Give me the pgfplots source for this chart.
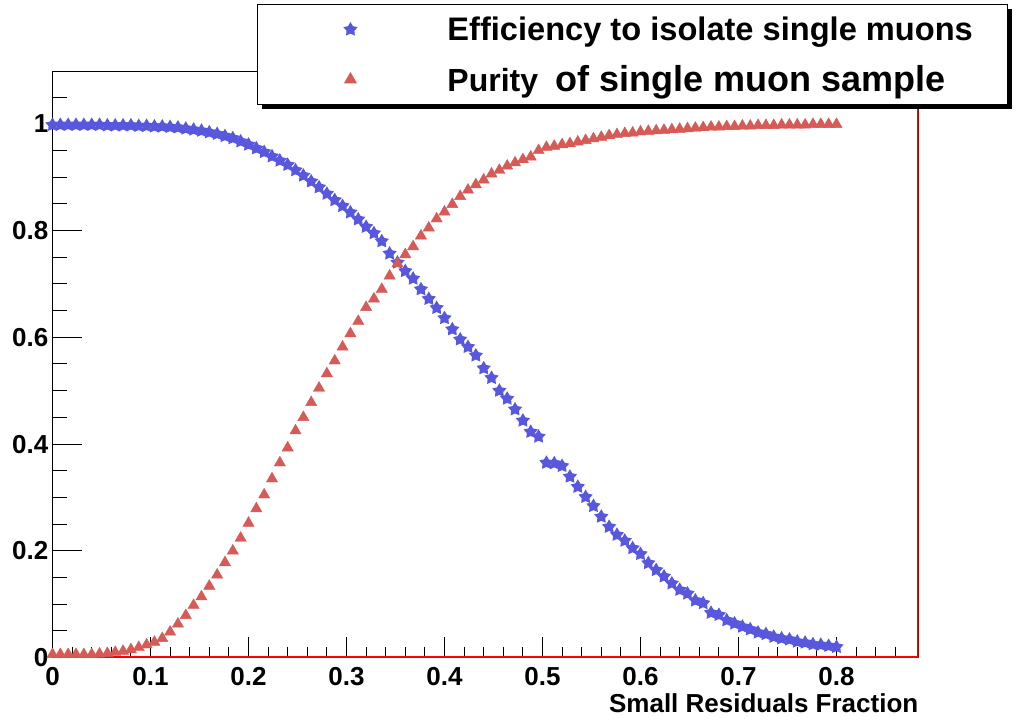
\documentclass[border=0pt]{standalone}
\usepackage{fontspec}
\setmainfont{Liberation Sans}
\usepackage{pgfplots}
\usepackage{pgfplotstable}
\pgfplotsset{compat=1.18}
\usetikzlibrary{shadows}
\definecolor{effblue}{RGB}{88,88,222}
\definecolor{purred}{RGB}{214,90,85}
\pgfdeclareplotmark{fstar}{%
 \pgfpathmoveto{\pgfpointpolar{90}{\pgfplotmarksize}}%
 \pgfpathlineto{\pgfpointpolar{126}{0.55\pgfplotmarksize}}%
 \pgfpathlineto{\pgfpointpolar{162}{\pgfplotmarksize}}%
 \pgfpathlineto{\pgfpointpolar{198}{0.55\pgfplotmarksize}}%
 \pgfpathlineto{\pgfpointpolar{234}{\pgfplotmarksize}}%
 \pgfpathlineto{\pgfpointpolar{270}{0.55\pgfplotmarksize}}%
 \pgfpathlineto{\pgfpointpolar{306}{\pgfplotmarksize}}%
 \pgfpathlineto{\pgfpointpolar{342}{0.55\pgfplotmarksize}}%
 \pgfpathlineto{\pgfpointpolar{18}{\pgfplotmarksize}}%
 \pgfpathlineto{\pgfpointpolar{54}{0.55\pgfplotmarksize}}%
 \pgfpathclose
 \pgfusepathqfill}

\pgfplotstableread{
x eff pur
0.000 0.998 0.006
0.008 0.998 0.006
0.016 0.998 0.006
0.024 0.998 0.006
0.032 0.998 0.006
0.040 0.998 0.006
0.048 0.998 0.007
0.056 0.997 0.008
0.064 0.997 0.010
0.072 0.997 0.012
0.080 0.997 0.015
0.088 0.996 0.019
0.096 0.996 0.024
0.104 0.995 0.029
0.112 0.995 0.036
0.120 0.994 0.048
0.128 0.993 0.063
0.136 0.991 0.079
0.144 0.989 0.098
0.152 0.987 0.114
0.160 0.984 0.134
0.168 0.981 0.155
0.176 0.977 0.178
0.184 0.973 0.200
0.192 0.967 0.224
0.200 0.961 0.252
0.208 0.954 0.279
0.216 0.947 0.305
0.224 0.939 0.335
0.232 0.931 0.365
0.240 0.923 0.393
0.248 0.913 0.425
0.256 0.903 0.450
0.264 0.892 0.478
0.272 0.881 0.505
0.280 0.869 0.532
0.288 0.857 0.556
0.296 0.846 0.582
0.304 0.834 0.607
0.312 0.821 0.630
0.320 0.807 0.656
0.328 0.795 0.672
0.336 0.780 0.690
0.344 0.757 0.715
0.352 0.740 0.738
0.360 0.724 0.755
0.368 0.710 0.770
0.376 0.690 0.790
0.384 0.672 0.805
0.392 0.655 0.822
0.400 0.636 0.835
0.408 0.615 0.849
0.416 0.596 0.864
0.424 0.582 0.876
0.432 0.566 0.886
0.440 0.542 0.895
0.448 0.524 0.906
0.456 0.500 0.913
0.464 0.485 0.921
0.472 0.465 0.927
0.480 0.444 0.933
0.488 0.423 0.938
0.496 0.414 0.950
0.504 0.365 0.956
0.512 0.364 0.958
0.520 0.359 0.961
0.528 0.339 0.963
0.536 0.320 0.966
0.544 0.301 0.969
0.552 0.284 0.972
0.560 0.264 0.975
0.568 0.245 0.978
0.576 0.230 0.980
0.584 0.219 0.982
0.592 0.205 0.983
0.600 0.194 0.985
0.608 0.177 0.986
0.616 0.164 0.987
0.624 0.152 0.988
0.632 0.139 0.989
0.640 0.127 0.990
0.648 0.120 0.991
0.656 0.107 0.992
0.664 0.102 0.993
0.672 0.084 0.994
0.680 0.080 0.994
0.688 0.070 0.995
0.696 0.064 0.995
0.704 0.058 0.996
0.712 0.053 0.996
0.720 0.047 0.997
0.728 0.044 0.997
0.736 0.039 0.997
0.744 0.036 0.998
0.752 0.034 0.998
0.760 0.030 0.998
0.768 0.028 0.998
0.776 0.025 0.999
0.784 0.024 0.999
0.792 0.022 0.999
0.800 0.020 0.999
}\datatable

\begin{document}
\begin{tikzpicture}
\begin{axis}[
 at={(0pt,0pt)}, anchor=south west,
 scale only axis, width=866pt, height=585.6pt,
 xmin=0, xmax=0.8837, ymin=0, ymax=1.097,
 axis line style={black, line width=1pt},
 tick align=inside, xtick pos=bottom, ytick pos=left,
 xtick={0,0.1,0.2,0.3,0.4,0.5,0.6,0.7,0.8},
 ytick={0,0.2,0.4,0.6,0.8,1},
 minor xtick={0.02,0.04,0.06,0.08,0.12,0.14,0.16,0.18,0.22,0.24,0.26,0.28,0.32,0.34,0.36,0.38,0.42,0.44,0.46,0.48,0.52,0.54,0.56,0.58,0.62,0.64,0.66,0.68,0.72,0.74,0.76,0.78,0.82,0.84,0.86},
 minor ytick={0.05,0.1,0.15,0.25,0.3,0.35,0.45,0.5,0.55,0.65,0.7,0.75,0.85,0.9,0.95,1.05},
 tick style={black, line width=1pt},
 xtick style={/pgfplots/major tick length=21pt,/pgfplots/minor tick length=11pt},
 ytick style={/pgfplots/major tick length=30pt,/pgfplots/minor tick length=15pt},
 /pgf/number format/assume math mode=true,
 ticklabel style={font=\fontsize{26}{26}\selectfont\bfseries},
 xticklabel style={inner sep=0pt, yshift=-10pt},
 yticklabel style={inner sep=0pt, xshift=-4pt},
 xlabel={Small Residuals Fraction},
 xlabel style={at={(axis description cs:1,0)}, anchor=north east, inner sep=0pt, yshift=-36pt, font=\fontsize{26}{26}\selectfont\bfseries},
 legend style={at={(axis description cs:0.2361,1.1161)}, anchor=north west, draw=black, line width=1pt, fill=white, inner sep=0pt, column sep=0pt, row sep=0pt,
   drop shadow={shadow xshift=5pt, shadow yshift=-4pt, fill=black, opacity=1},
   nodes={inner sep=0pt, minimum height=50pt, anchor=center}},
 legend image code/.code={\pgfpathmoveto{\pgfqpoint{0pt}{0pt}}\pgfpathlineto{\pgfqpoint{190pt}{0pt}}\pgfusepath{discard}\draw[#1] plot coordinates {(93pt,0pt)};},
]
\draw[red, line width=2pt] (rel axis cs:0,0) ++(0pt,0.8pt) -- ([xshift=-0.8pt,yshift=0.8pt]rel axis cs:1,0) -- ([xshift=-0.8pt]rel axis cs:1,1);
\addplot[only marks, mark=fstar, mark size=7.5pt, color=effblue] table[x=x, y=eff] {\datatable};
\addlegendentry{\makebox[560pt][l]{\fontsize{32.6}{32.6}\selectfont\bfseries Efficiency to isolate single muons}}
\addplot[only marks, mark=triangle*, mark size=6.5pt, color=purred] table[x=x, y=pur] {\datatable};
\addlegendentry{\makebox[560pt][l]{\fontsize{32}{32}\selectfont\bfseries Purity\ \ \fontsize{36}{36}\selectfont of single muon sample}}
\end{axis}
\pgfresetboundingbox
\path[use as bounding box] (-52.5pt,-60.4pt) rectangle (966.5pt,657.6pt);
\end{tikzpicture}
\end{document}
